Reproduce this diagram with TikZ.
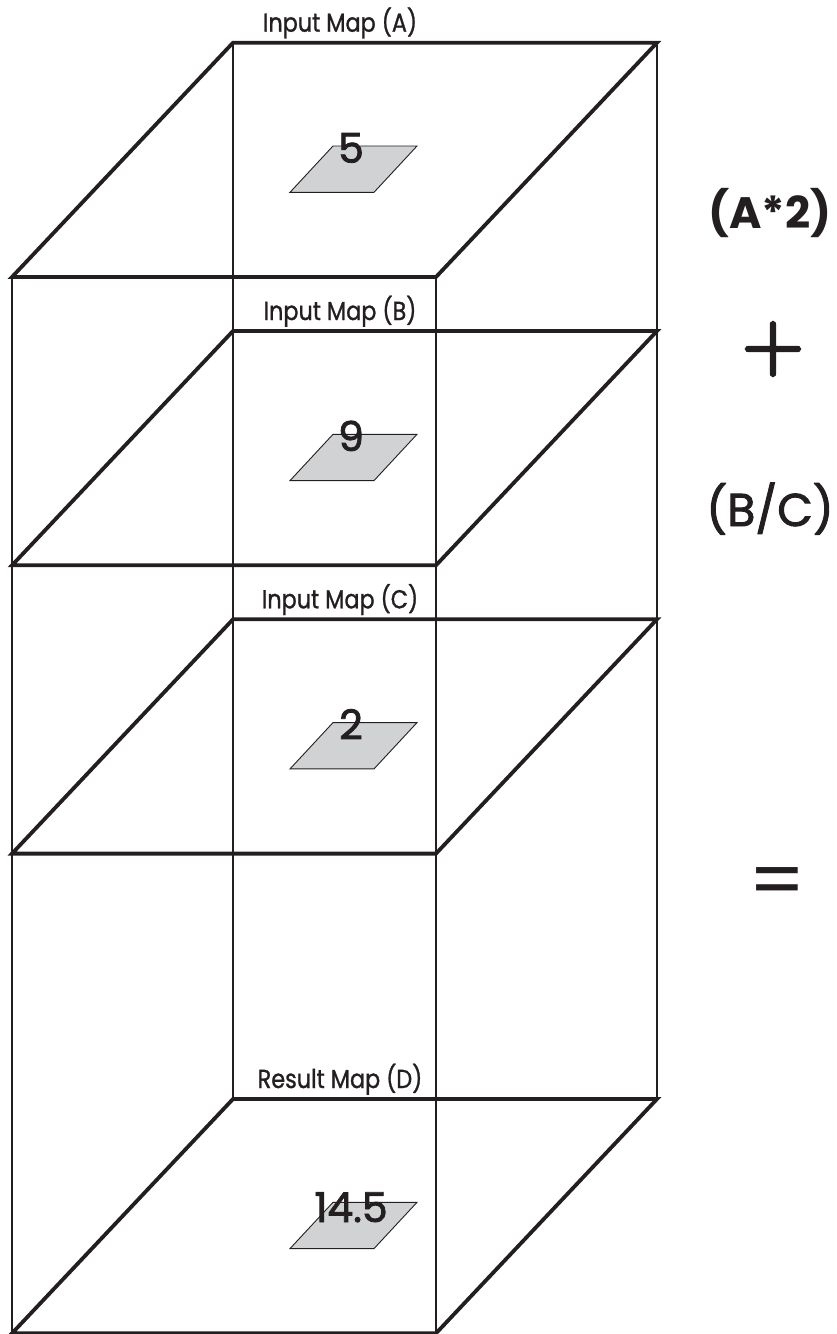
\documentclass[tikz,border=0pt]{standalone}
\usepackage{fontspec}
\setmainfont{Poppins}
\newfontfamily\medfont[FakeBold=2]{Poppins}
\newfontfamily\semifont[FakeBold=1.2]{Poppins}
\newfontfamily\lmfont[FakeBold=4]{Latin Modern Roman}
\usetikzlibrary{calc}
\definecolor{cellgray}{HTML}{D1D2D4}
\definecolor{ink}{HTML}{231F20}
\begin{document}
\begin{tikzpicture}[x=1pt,y=-1pt,
  thickline/.style={line width=3.8pt, draw=ink, line join=miter},
  thinline/.style={line width=1.4pt, draw=ink},
  cellbox/.style={fill=cellgray, draw=ink, line width=0.9pt},
  maplabel/.style={font=\semifont\fontsize{26}{30}\selectfont, anchor=base, inner sep=0pt, text=ink},
  cellvalue/.style={font=\medfont\fontsize{41}{44}\selectfont, anchor=base, inner sep=0pt, text=ink},
  formula/.style={anchor=base, inner sep=0pt, text=ink},
  opsign/.style={font=\fontsize{92}{100}\selectfont, anchor=center, inner sep=0pt, text=ink}]
\useasboundingbox (0,0) rectangle (836,1334);

\newcommand\mapplane[2]{%
  \coordinate (#1tl) at (233,#2);
  \coordinate (#1tr) at (657,#2);
  \coordinate (#1br) at (436,{#2+234.3});
  \coordinate (#1bl) at (12,{#2+234.3});
  \coordinate (#1c1) at (333,{#2+103.3});
  \coordinate (#1c2) at (417,{#2+103.3});
  \coordinate (#1c3) at (374,{#2+149.6});
  \coordinate (#1c4) at (290,{#2+149.6});
  \coordinate (#1lab) at (340,{#2-11});
  \coordinate (#1val) at (351,{#2+120});
}
\mapplane{A}{42.7}
\mapplane{B}{331}
\mapplane{C}{619.3}
\mapplane{D}{1099}

% vertical edges
\draw[thinline] (Atl) -- (Dtl);
\draw[thinline] (Atr) -- (Dtr);
\draw[thinline] (Abl) -- (Dbl);
\draw[thinline] (Abr) -- (Dbr);

% planes
\foreach \p in {A,B,C,D}{
  \draw[thickline] (\p tl) -- (\p tr) -- (\p br) -- (\p bl) -- cycle;
  \draw[cellbox] (\p c1) -- (\p c2) -- (\p c3) -- (\p c4) -- cycle;
}

% labels
\node[maplabel] (labA) at (Alab) {\scalebox{0.86}[1]{Input Map (A)}};
\node[maplabel] (labB) at (Blab) {\scalebox{0.86}[1]{Input Map (B)}};
\node[maplabel] (labC) at (Clab) {\scalebox{0.86}[1]{Input Map (C)}};
\node[maplabel] (labD) at (Dlab) {\scalebox{0.86}[1]{Result Map (D)}};

% values
\node[cellvalue] (valA) at (Aval) {5};
\node[cellvalue] (valB) at (Bval) {9};
\node[cellvalue] (valC) at (Cval) {2};
\node[cellvalue] (valD) at ($(Dval)+(0,3)$) {14.5};

% formula
\node[formula, font=\fontsize{44}{48}\selectfont\bfseries] (fA) at (770,228) {(A*2)};
\node[opsign, font=\lmfont\fontsize{84}{90}\selectfont] (plus) at (773,349) {+};
\node[formula, font=\medfont\fontsize{46}{50}\selectfont] (fB) at (770,526) {(B/C)};
\node[opsign, font=\fontsize{80}{90}\selectfont] (eq) at (777,888) {=};
\end{tikzpicture}
\end{document}
